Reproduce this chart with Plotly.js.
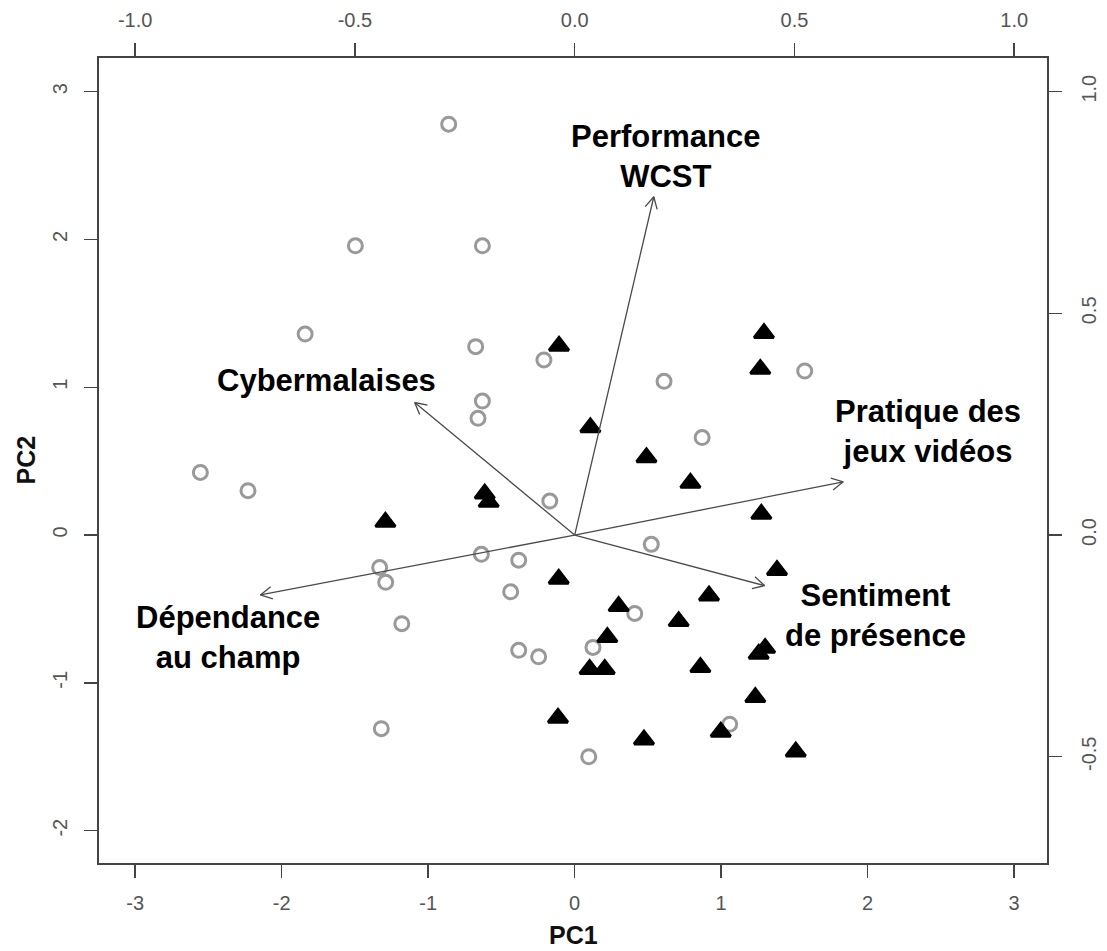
<!DOCTYPE html>
<html>
<head>
<meta charset="utf-8">
<script src="https://cdn.plot.ly/plotly-3.0.1.min.js"></script>
<style>html,body{margin:0;padding:0;background:#fff;}#chart{width:1107px;height:951px;}</style>
</head>
<body>
<div id="chart"></div>
<script>
// Group 1 (grey open circles): PC1 / PC2 scores
const circleX = [-0.86, -1.497, -0.63, -1.84, -0.676, -0.21, -0.63, -0.66, 0.61, 1.57, 0.87,
                 -2.555, -2.23, -0.17, -0.637, -0.382, -1.331, -1.29, -0.437, -1.18, -0.382,
                 -0.246, -1.32, 0.523, 0.41, 0.125, 1.058, 0.096];
const circleY = [2.78, 1.957, 1.957, 1.36, 1.275, 1.185, 0.907, 0.79, 1.04, 1.11, 0.66,
                 0.424, 0.30, 0.23, -0.13, -0.17, -0.22, -0.32, -0.384, -0.60, -0.78,
                 -0.824, -1.31, -0.063, -0.53, -0.76, -1.28, -1.50];
// Group 2 (black triangles): PC1 / PC2 scores
const triX = [-0.107, 1.292, 1.267, 0.107, 0.49, 0.79, 1.274, 1.381, -0.109, 0.917, 0.30,
              0.71, 0.223, 1.30, 1.256, 0.102, 0.205, 0.858, 1.233, -0.114, 0.473, 0.997,
              1.509, -1.292, -0.614, -0.587];
const triY = [1.28, 1.365, 1.123, 0.728, 0.525, 0.352, 0.142, -0.238, -0.297, -0.41, -0.482,
              -0.584, -0.692, -0.765, -0.804, -0.908, -0.908, -0.895, -1.098, -1.238, -1.385, -1.332,
              -1.466, 0.088, 0.279, 0.223];
// Variable loadings (top / right axes)
const varNames = ["Performance<br>WCST", "Cybermalaises", "Pratique des<br>jeux vidéos",
                  "Sentiment<br>de présence", "Dépendance<br>au champ"];
const loadX = [0.18, -0.364, 0.611, 0.432, -0.715];
const loadY = [0.763, 0.299, 0.12, -0.114, -0.135];
// Label positions (PC1/PC2 units)
const labelX = [0.621, -1.693, 2.41, 2.055, -2.369];
const labelY = [2.56, 1.043, 0.704, -0.542, -0.69];

// Tick labels
const xTicks = [-3, -2, -1, 0, 1, 2, 3];
const xTickText = ["-3", "-2", "-1", "0", "1", "2", "3"];
const yTicks = [-2, -1, 0, 1, 2, 3];
const yTickText = ["-2", "-1", "0", "1", "2", "3"];
const x2Ticks = [-1, -0.5, 0, 0.5, 1];
const x2TickText = ["-1.0", "-0.5", "0.0", "0.5", "1.0"];
const y2Ticks = [-0.5, 0, 0.5, 1];
const y2TickText = ["-0.5", "0.0", "0.5", "1.0"];

const W = 1107, H = 951;
const M = {l: 99, r: 60, t: 58, b: 88};
const xRange = [-3.247, 3.224];
const yRange = [-2.219, 3.228];
const x2Range = [xRange[0] / 3, xRange[1] / 3];
const y2Range = [yRange[0] / 3, yRange[1] / 3];

// pixel per unit for secondary axes (for arrowheads)
const pxX2 = (W - M.l - M.r) / (x2Range[1] - x2Range[0]);
const pxY2 = (H - M.t - M.b) / (y2Range[1] - y2Range[0]);

// build arrows (shaft + open head) in loading coordinates
const ax = [], ay = [];
const headLen = 13, headAng = 28 * Math.PI / 180;
for (let i = 0; i < loadX.length; i++) {
  const tx = loadX[i], ty = loadY[i];
  ax.push(0, tx, null); ay.push(0, ty, null);
  const ang = Math.atan2(ty * pxY2, tx * pxX2);
  for (const s of [1, -1]) {
    const a = ang + Math.PI + s * headAng;
    ax.push(tx, tx + headLen * Math.cos(a) / pxX2, null);
    ay.push(ty, ty + headLen * Math.sin(a) / pxY2, null);
  }
}

const traces = [
  {x: circleX, y: circleY, type: 'scatter', mode: 'markers', xaxis: 'x', yaxis: 'y',
   marker: {symbol: 'circle-open', size: 14, color: '#999999', line: {width: 3, color: '#999999'}},
   hoverinfo: 'skip'},
  {x: triX, y: triY, type: 'scatter', mode: 'markers', xaxis: 'x', yaxis: 'y',
   marker: {symbol: 'triangle-up', size: 17, color: '#000000', line: {width: 3, color: '#000000'}},
   hoverinfo: 'skip'},
  {x: ax, y: ay, type: 'scatter', mode: 'lines', xaxis: 'x2', yaxis: 'y2',
   line: {color: '#4a4a4a', width: 1.3}, connectgaps: false, hoverinfo: 'skip'}
];

const tickFont = {family: 'Liberation Sans, Arial, sans-serif', size: 20, color: '#555'};
const axCommon = {showgrid: false, zeroline: false, showline: true, linecolor: '#444', linewidth: 2,
  ticks: 'outside', ticklen: 13, tickcolor: '#444', tickwidth: 1.5, tickfont: tickFont,
  automargin: false, fixedrange: true};

const annotations = [];
for (let i = 0; i < varNames.length; i++) {
  annotations.push({x: labelX[i], y: labelY[i], xref: 'x', yref: 'y', text: '<b>' + varNames[i] + '</b>',
    showarrow: false, align: 'center', xanchor: 'center', yanchor: 'middle',
    font: {family: 'Liberation Sans, Arial, sans-serif', size: 31, color: '#000'}});
}
annotations.push({x: 0.5, y: 0, xref: 'paper', yref: 'paper', yshift: -72, text: '<b>PC1</b>',
  showarrow: false, xanchor: 'center', yanchor: 'middle',
  font: {family: 'Liberation Sans, Arial, sans-serif', size: 25, color: '#111'}});
annotations.push({x: 0, y: 0.5, xref: 'paper', yref: 'paper', xshift: -74, text: '<b>PC2</b>',
  showarrow: false, xanchor: 'center', yanchor: 'middle', textangle: -90,
  font: {family: 'Liberation Sans, Arial, sans-serif', size: 25, color: '#111'}});

const layout = {
  width: W, height: H, margin: M, showlegend: false,
  paper_bgcolor: '#fff', plot_bgcolor: '#fff',
  xaxis: Object.assign({}, axCommon, {range: xRange, tickvals: xTicks, ticktext: xTickText,
    side: 'bottom', ticklabelstandoff: 8}),
  yaxis: Object.assign({}, axCommon, {range: yRange, tickvals: yTicks, ticktext: yTickText,
    side: 'left', tickangle: -90, ticklabelstandoff: 9}),
  xaxis2: Object.assign({}, axCommon, {range: x2Range, tickvals: x2Ticks, ticktext: x2TickText,
    side: 'top', overlaying: 'x', anchor: 'y', ticklabelstandoff: 8}),
  yaxis2: Object.assign({}, axCommon, {range: y2Range, tickvals: y2Ticks, ticktext: y2TickText,
    side: 'right', overlaying: 'y', anchor: 'x', tickangle: -90, ticklabelstandoff: 10}),
  annotations: annotations
};

Plotly.newPlot('chart', traces, layout, {displayModeBar: false, staticPlot: true});
</script>
</body>
</html>
